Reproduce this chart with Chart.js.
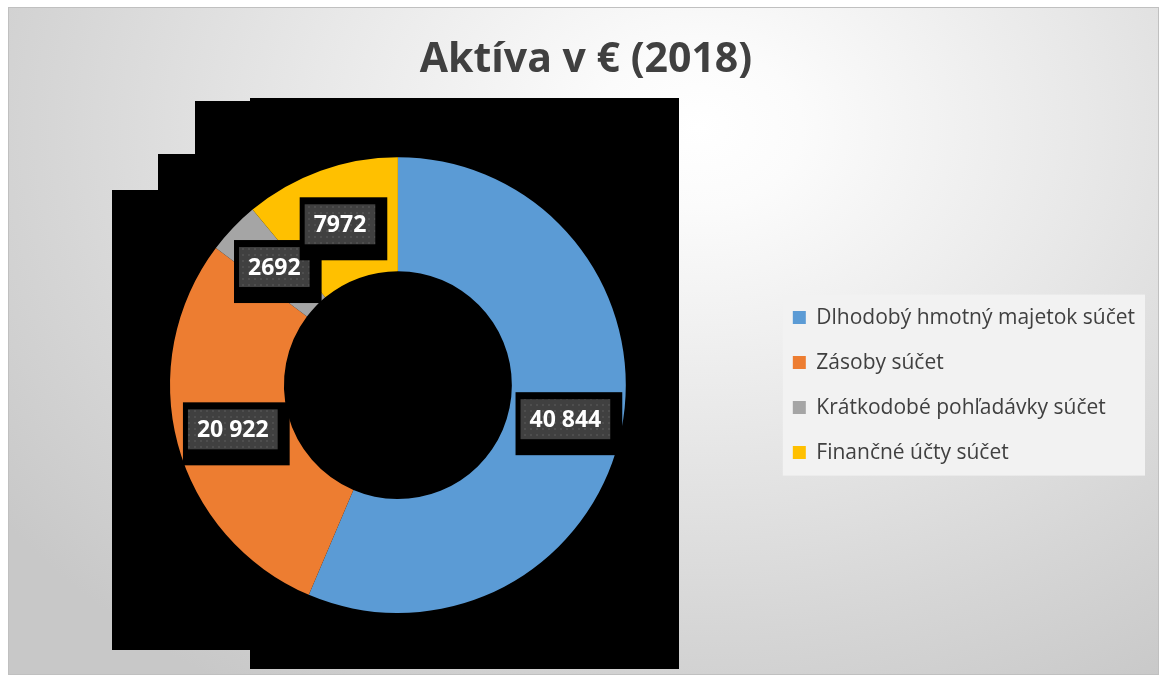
<!DOCTYPE html>
<html>
<head>
<meta charset="utf-8">
<script src="https://cdn.jsdelivr.net/npm/chart.js@4.4.0/dist/chart.umd.min.js"></script>
<style>
  html, body { margin: 0; padding: 0; background: #fff; }
  #bg {
    position: absolute; left: 8px; top: 7px; width: 1149px; height: 666px;
    border: 1px solid #c0c0c0;
    background: radial-gradient(ellipse 75% 100% at 60% 18%, #ffffff 0%, #fbfbfb 12%, #e8e8e8 45%, #d6d6d6 75%, #c8c8c8 100%);
  }
  #chart { position: absolute; left: 0; top: 0; }
</style>
</head>
<body>
<div id="bg"></div>
<canvas id="chart" width="1159" height="675"></canvas>
<script>
const categories = ["Dlhodobý hmotný majetok súčet", "Zásoby súčet", "Krátkodobé pohľadávky súčet", "Finančné účty súčet"];
const values = [40844, 20922, 2692, 7972];
const valueLabels = ["40 844", "20 922", "2692", "7972"];
const colors = ["#5b9bd5", "#ed7d31", "#a5a5a5", "#ffc000"];

// dotted dark fill used behind the value labels
function dotPattern(ctx){
  const p = document.createElement("canvas");
  p.width = 6; p.height = 6;
  const c = p.getContext("2d");
  c.fillStyle = "#404040";
  c.fillRect(0, 0, 6, 6);
  c.fillStyle = "#4e4e4e";
  c.fillRect(2, 2, 2, 2);
  return ctx.createPattern(p, "repeat");
}

// the black block sitting behind the doughnut
const backdrop = {
  id: "backdrop",
  beforeDatasetsDraw(chart){
    const ctx = chart.ctx;
    ctx.save();
    ctx.fillStyle = "#000";
    ctx.beginPath();
    ctx.moveTo(250, 98);
    ctx.lineTo(679, 98);
    ctx.lineTo(679, 669);
    ctx.lineTo(250, 669);
    ctx.lineTo(250, 650);
    ctx.lineTo(112, 650);
    ctx.lineTo(112, 190);
    ctx.lineTo(158, 190);
    ctx.lineTo(158, 154);
    ctx.lineTo(195, 154);
    ctx.lineTo(195, 101);
    ctx.lineTo(250, 101);
    ctx.closePath();
    ctx.fill();
    ctx.restore();
  }
};

const legendBox = {
  id: "legendBox",
  beforeDraw(chart){
    const boxes = chart.legend.legendHitBoxes;
    if(!boxes || !boxes.length) return;
    const ctx = chart.ctx;
    const left = Math.min(...boxes.map(b => b.left)) - 10;
    const right = Math.max(...boxes.map(b => b.left + b.width)) + 10;
    const top = boxes[0].top + boxes[0].height / 2 - 23;
    const last = boxes[boxes.length - 1];
    const bottom = last.top + last.height / 2 + 23;
    ctx.save();
    ctx.fillStyle = "#f2f2f2";
    ctx.fillRect(left, top, right - left, bottom - top);
    ctx.restore();
  }
};

const valueLabelsPlugin = {
  id: "valueLabels",
  afterDatasetsDraw(chart){
    const ctx = chart.ctx;
    const meta = chart.getDatasetMeta(0);
    const pattern = dotPattern(ctx);
    ctx.save();
    ctx.font = "bold 23px 'Open Sans'";
    ctx.textAlign = "center";
    ctx.textBaseline = "middle";
    meta.data.forEach((arc, i) => {
      const pos = arc.tooltipPosition();
      const text = valueLabels[i];
      const w = ctx.measureText(text).width + 18;
      const h = 40;
      const x = pos.x - w / 2, y = pos.y - h / 2;
      ctx.fillStyle = "#000";
      ctx.fillRect(x - 5, y - 7, w + 17, h + 23);
      ctx.fillStyle = pattern;
      ctx.fillRect(x, y, w, h);
      ctx.fillStyle = "#ffffff";
      ctx.fillText(text, pos.x, pos.y + 1);
    });
    ctx.restore();
  }
};

new Chart(document.getElementById("chart"), {
  type: "doughnut",
  data: {
    labels: categories,
    datasets: [{
      data: values,
      backgroundColor: colors,
      borderWidth: 0
    }]
  },
  options: {
    responsive: false,
    animation: false,
    cutout: "50%",
    layout: { padding: { left: 27, right: 14, top: 0, bottom: 62 } },
    plugins: {
      title: {
        display: true,
        text: "Aktíva v € (2018)",
        color: "#404040",
        font: { family: "'Open Sans'", size: 41, weight: "bold" },
        padding: { top: 36, bottom: 72 }
      },
      legend: {
        position: "right",
        fullSize: false,
        labels: {
          boxWidth: 13,
          boxHeight: 13,
          padding: 24,
          color: "#404040",
          font: { family: "'Open Sans'", size: 21 }
        }
      },
      tooltip: { enabled: false }
    }
  },
  plugins: [backdrop, legendBox, valueLabelsPlugin]
});
</script>
</body>
</html>
